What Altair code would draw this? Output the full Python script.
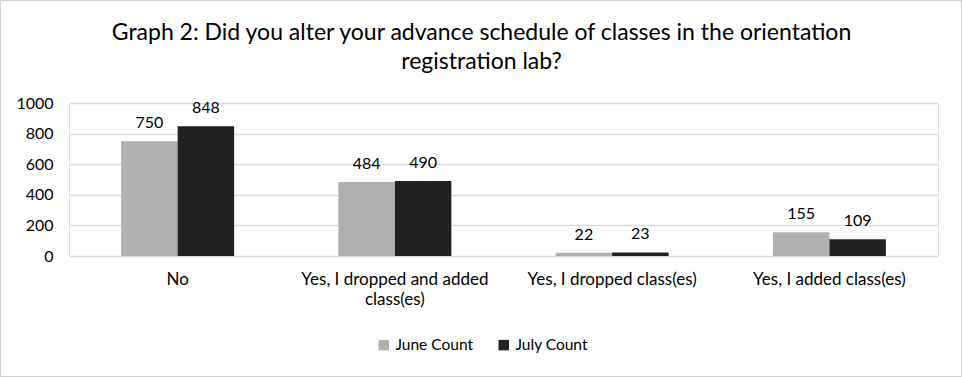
import altair as alt
import pandas as pd

categories = ["No", "Yes, I dropped and added class(es)", "Yes, I dropped class(es)", "Yes, I added class(es)"]
june = [750, 484, 22, 155]
july = [848, 490, 23, 109]
series = ["June Count", "July Count"]
colors = ["#b0b0b0", "#222222"]

rows = []
for c, a, b in zip(categories, june, july):
    rows.append({"cat": c, "series": series[0], "value": a})
    rows.append({"cat": c, "series": series[1], "value": b})
df = pd.DataFrame(rows)

FONT = "Lato"

x = alt.X("cat:N", sort=categories, title=None,
          scale=alt.Scale(paddingInner=0.48, paddingOuter=0.24),
          axis=alt.Axis(labelAngle=0, ticks=False, domain=False, labelPadding=15,
                        labelFontSize=17, labelColor="#000000", labelFont=FONT,
                        labelLimit=300, labelLineHeight=20,
                        labelExpr="datum.value == 'Yes, I dropped and added class(es)' ? ['Yes, I dropped and added', 'class(es)'] : datum.label"))
y = alt.Y("value:Q", title=None,
          scale=alt.Scale(domain=[0, 1000]),
          axis=alt.Axis(values=[0, 200, 400, 600, 800, 1000], format="d", ticks=False, domain=False,
                        labelFontSize=16, labelColor="#000000", labelFont=FONT,
                        labelPadding=16, gridColor="#d9d9d9", gridWidth=1.5))
xo = alt.XOffset("series:N", sort=series)
color = alt.Color("series:N", sort=series, title=None,
                  scale=alt.Scale(domain=series, range=colors),
                  legend=alt.Legend(orient="none", direction="horizontal", legendX=307, legendY=234,
                                    symbolType="square", symbolSize=110, symbolStrokeWidth=0,
                                    labelFontSize=15.5, labelFont=FONT, labelColor="#000000",
                                    labelOffset=4, columnPadding=22))

bars = alt.Chart(df).mark_bar().encode(x=x, y=y, xOffset=xo, color=color)
labels = alt.Chart(df).mark_text(dy=-18, fontSize=16, font=FONT, color="#000000").encode(
    x=x, y=y, xOffset=xo, text=alt.Text("value:Q"))

border = alt.Chart(alt.Data(values=[{"a": 1}])).mark_rect(
    fill="#ffffff", fillOpacity=0, stroke="#d0d0d0", strokeWidth=1).encode(
    x=alt.value(-68.5), x2=alt.value(892.5), y=alt.value(-102.5), y2=alt.value(273.5))

chart = alt.layer(border, bars, labels).properties(
    width=869, height=153,
    padding={"left": 69, "top": 103, "right": 24, "bottom": 121},
    autosize=alt.AutoSizeParams(type="none"),
    title=alt.Title(["Graph 2: Did you alter your advance schedule of classes in the orientation",
                     "registration lab?"],
                    fontSize=23, font=FONT, fontWeight="normal", color="#000000",
                    anchor="middle", frame="group", baseline="top", dx=-22, dy=74, offset=0, lineHeight=29),
).configure_view(stroke=None).configure(background="#ffffff")

chart.save("out.html", embed_options={"renderer": "svg", "actions": False})
